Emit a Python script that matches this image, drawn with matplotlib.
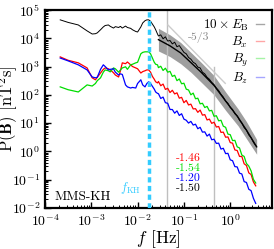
import numpy as np
import matplotlib
matplotlib.use('Agg')
import matplotlib.pyplot as plt
from matplotlib.lines import Line2D
from matplotlib.ticker import LogLocator, NullFormatter

plt.rcParams['font.family'] = 'serif'
plt.rcParams['font.serif'] = ['cmr10']
plt.rcParams['mathtext.fontset'] = 'cm'
plt.rcParams['axes.formatter.use_mathtext'] = True

# ---------------- data (log10 values) ----------------
# low frequency part (shared frequencies)
lf_lo = [-3.67, -3.50, -3.28, -3.09, -2.98, -2.91, -2.87, -2.80, -2.74, -2.70, -2.63,
         -2.59, -2.52, -2.48, -2.41, -2.37, -2.33, -2.26, -2.22, -2.15, -2.11, -2.04,
         -2.00, -1.93, -1.89, -1.84, -1.80, -1.76, -1.72, -1.68, -1.64, -1.61, -1.57]
eb_lo = [4.65, 4.56, 4.47, 4.26, 4.15, 4.16, 4.19, 4.30, 4.40, 4.45, 4.47,
         4.42, 4.36, 4.41, 4.38, 4.42, 4.36, 4.43, 4.38, 4.35, 4.30, 4.24,
         4.22, 4.40, 4.54, 4.62, 4.65, 4.65, 4.60, 4.50, 4.40, 4.30, 4.15]
bx_lo = [3.34, 3.22, 3.13, 2.95, 2.60, 2.53, 2.62, 2.77, 2.90, 2.95, 2.92,
         2.88, 2.78, 2.70, 2.63, 2.85, 3.13, 3.10, 3.16, 3.06, 3.00, 2.95,
         2.92, 2.77, 2.82, 2.85, 2.88, 2.88, 2.80, 2.65, 2.55, 2.46, 2.42]
by_lo = [2.28, 2.18, 2.10, 2.35, 2.31, 2.40, 2.50, 2.60, 2.80, 2.88, 2.85,
         2.81, 2.95, 2.92, 2.80, 2.88, 2.95, 2.99, 2.90, 3.06, 3.08, 3.13,
         3.15, 3.45, 3.50, 3.52, 3.52, 3.52, 3.45, 3.30, 3.15, 3.08, 3.06]
bz_lo = [3.30, 3.20, 3.06, 2.88, 2.63, 2.60, 2.62, 2.90, 3.06, 3.00, 2.88,
         2.90, 2.92, 2.80, 2.70, 2.74, 2.72, 2.35, 2.28, 2.24, 2.26, 2.24,
         2.40, 2.53, 2.35, 2.28, 2.40, 2.46, 2.40, 2.30, 2.20, 2.10, 2.05]

# high frequency part
lf_hi = [-1.55, -1.50, -1.45, -1.40, -1.35, -1.30, -1.25, -1.20, -1.15, -1.10, -1.05,
         -1.00, -0.95, -0.90, -0.85, -0.80, -0.75, -0.70, -0.65, -0.60, -0.55, -0.50,
         -0.45, -0.40, -0.35, -0.30, -0.25, -0.20, -0.15, -0.10, -0.05, 0.00, 0.05,
         0.10, 0.15, 0.20, 0.25, 0.30, 0.35, 0.40, 0.45, 0.50, 0.55]
eb_hi = [4.08, 4.12, 3.98, 4.05, 3.90, 3.92, 3.80, 3.86, 3.70, 3.74, 3.62,
         3.50, 3.45, 3.32, 3.26, 3.15, 3.10, 2.98, 2.95, 2.80, 2.74, 2.62,
         2.55, 2.44, 2.36, 2.24, 2.15, 2.02, 1.92, 1.78, 1.70, 1.55, 1.48,
         1.33, 1.26, 1.10, 1.00, 0.84, 0.75, 0.58, 0.48, 0.32, 0.20]
bx_hi = [2.47, 2.32, 2.38, 2.19, 2.23, 2.08, 2.16, 2.03, 2.07, 1.88, 1.91,
         1.72, 1.80, 1.64, 1.67, 1.50, 1.51, 1.38, 1.46, 1.28, 1.30, 1.11,
         1.14, 0.99, 1.03, 0.86, 0.88, 0.67, 0.68, 0.50, 0.51, 0.31, 0.29,
         0.05, 0.03, -0.18, -0.18, -0.44, -0.50, -0.76, -0.82, -1.08, -1.22]
by_hi = [2.96, 3.01, 2.86, 2.94, 2.80, 2.83, 2.65, 2.69, 2.50, 2.56, 2.39,
         2.41, 2.20, 2.17, 2.00, 2.06, 1.86, 1.88, 1.68, 1.70, 1.55, 1.59,
         1.43, 1.45, 1.24, 1.26, 1.08, 1.10, 0.89, 0.85, 0.61, 0.59, 0.38,
         0.39, 0.16, 0.12, -0.13, -0.18, -0.43, -0.52, -0.69, -0.99, -1.12]
bz_hi = [2.04, 1.87, 1.92, 1.72, 1.70, 1.48, 1.48, 1.35, 1.43, 1.27, 1.33,
         1.14, 1.10, 1.00, 1.06, 0.93, 0.96, 0.80, 0.85, 0.68, 0.69, 0.54,
         0.61, 0.41, 0.43, 0.28, 0.29, 0.08, 0.11, -0.08, -0.07, -0.30, -0.33,
         -0.54, -0.55, -0.77, -0.80, -1.07, -1.10, -1.34, -1.39, -1.66, -1.84]

# smoothed 10*E_B and its spread
lf_sm = [-1.55, -1.30, -1.07, -0.85, -0.63, -0.35, -0.10, 0.17, 0.35, 0.57]
eb_sm = [3.95, 3.73, 3.48, 3.14, 2.80, 2.33, 1.78, 1.20, 0.75, 0.16]
eb_band_hi = [4.35, 4.12, 3.85, 3.50, 3.15, 2.68, 2.10, 1.50, 1.05, 0.42]
eb_band_lo = [3.55, 3.35, 3.10, 2.80, 2.45, 2.00, 1.45, 0.90, 0.45, -0.10]

f_kh = 0.0174
f_fit = [0.043, 0.45]
ref_f = [0.045, 0.78]
ref_p = [10**4.47, 10**4.47 * (0.78 / 0.045)**(-5. / 3)]

slopes = ['-1.46', '-1.54', '-1.20', '-1.50']
slope_cols = ['red', '#00dd00', 'blue', 'black']
labels = [r'$10\times E_{\rm B}$', r'$B_x$', r'$B_y$', r'$B_z$']
cols = ['black', 'red', '#00dd00', 'blue']

# ---------------- plot ----------------
fig = plt.figure(figsize=(2.74, 2.49), dpi=100)
ax = fig.add_axes([0.164, 0.165, 0.829, 0.795])

p = lambda a: 10 ** np.array(a)

ax.fill_between(p(lf_sm), p(eb_band_lo), p(eb_band_hi), color='0.62', lw=0, zorder=1)

for lo, hi, c in zip([eb_lo, bx_lo, by_lo, bz_lo], [eb_hi, bx_hi, by_hi, bz_hi], cols):
    lw = 0.7 if c == 'black' else 0.9
    ax.plot(p(lf_lo + lf_hi), p(lo + hi), color=c, lw=lw, zorder=3)
ax.plot(p(lf_sm), p(eb_sm), color='k', lw=1.0, zorder=3)

ax.axvline(f_kh, color='#33ccff', lw=2.5, ls=(0, (1.5, 1)), zorder=4)
ax.axvline(f_fit[0], color='0.75', lw=1.0, zorder=2)
ax.plot([f_fit[1], f_fit[1]], [1e-2, 1e3], color='0.75', lw=1.0, zorder=2)
ax.plot(ref_f, ref_p, color='0.8', lw=1.0, zorder=2)
ax.text(0.21, 10**4.01, '-5/3', color='0.55', fontsize=8.5, ha='center', va='center')

for i, (s, c) in enumerate(zip(slopes, slope_cols)):
    ax.text(0.122, 10**(-0.23 - 0.355 * i), s, color=c, fontsize=8.5, ha='center', va='center')

ax.text(0.0117, 10**(-1.29), r'$f_{\rm KH}$', color='#33ccff', fontsize=9, ha='right', va='center')
ax.text(0.044, 0.056, 'MMS-KH', transform=ax.transAxes, fontsize=9.5, va='center')

handles = [Line2D([], [], color=c, lw=1.0, alpha=0.35) for c in cols]
ax.legend(handles, labels, loc='upper right', frameon=False, markerfirst=False,
          fontsize=9.5, handlelength=0.6, handletextpad=0.6, labelspacing=0.12,
          borderaxespad=0.3, borderpad=0.3)

ax.set_xscale('log')
ax.set_yscale('log')
ax.set_xlim(1e-4, 8)
ax.set_ylim(1e-2, 1e5)
ax.yaxis.set_major_locator(LogLocator(base=10, numticks=10))
ax.yaxis.set_minor_locator(LogLocator(base=10, subs=np.arange(2, 10), numticks=10))
ax.yaxis.set_minor_formatter(NullFormatter())
ax.tick_params(which='both', direction='in', labelsize=10)
ax.tick_params(which='major', length=4, width=1)
ax.tick_params(which='minor', length=2, width=0.7)
ax.tick_params(axis='x', pad=4)
for sp in ax.spines.values():
    sp.set_linewidth(1.6)

ax.set_xlabel(r'$f$ [Hz]', fontsize=12.5, labelpad=-1)
ax.set_ylabel(r'P($\mathbf{B}$) [nT$^2$s]', fontsize=12)
ax.yaxis.set_label_coords(-0.11, 0.5)

fig.savefig('out.png', dpi=100)
